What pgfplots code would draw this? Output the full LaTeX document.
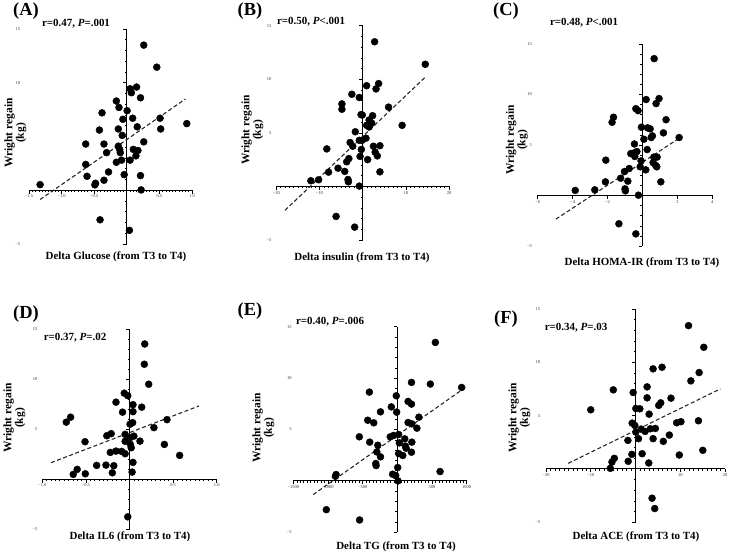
\documentclass[border=0pt]{standalone}
\usepackage{fontspec}
\setmainfont{Liberation Serif}
\usepackage{pgfplots}
\pgfplotsset{compat=1.18}
\pgfplotsset{
  panel/.style={
    scale only axis,
    axis lines=middle,
    axis line style={-, line width=1bp, black},
    enlargelimits=false,
    clip=false,
    ymin=-5, ymax=15,
    ytick={-5,0,5,10,15},
    yticklabels={−5,0,5,10,15},
    minor y tick num=4,
    tick align=outside,
    major tick length=3.5bp,
    minor tick length=2bp,
    every tick/.style={line width=0.6bp, black},
    minor tick style={line width=0.5bp, black},
    tick label style={font=\fontsize{4.5}{5}\selectfont, inner sep=1bp, black!80},
  },
  dots/.style={only marks, mark=*, mark size=3.5bp, mark options={fill=black, draw=black}},
  fit/.style={no marks, black!85, line width=1.1bp, dash pattern=on 4bp off 2.5bp},
}
\begin{document}
\begin{tikzpicture}[x=1bp,y=1bp]
\path[use as bounding box] (0bp,0bp) rectangle (730bp,555bp);
\tikzset{
  plab/.style={font=\fontsize{18.5}{18.5}\selectfont\bfseries},
  stat/.style={font=\fontsize{11}{12}\selectfont\bfseries},
  xlab/.style={font=\fontsize{11}{12}\selectfont\bfseries},
  ylab/.style={font=\fontsize{11.5}{11.5}\selectfont\bfseries, rotate=90, align=center},
}
% ---------------- (A) ----------------
\begin{axis}[panel, at={(29bp,311bp)}, anchor=south west, width=163bp, height=215bp,
  xmin=-1.5, xmax=1.0, xtick={-1.5,-1,-0.5,0,0.5,1}, xticklabels={−1.5,−1.0,−0.5,,0.5,1.0},
  minor x tick num=9, yticklabel style={xshift=-102bp}]
\addplot[dots] coordinates {
(0.26,13.5) (0.46,11.45) (0.05,9.44) (0.15,9.6) (0.07,9.07) (0.21,8.6) (-0.16,8.3) (-0.12,7.7)
(-0.38,7.2) (0.005,7.4) (-0.06,6.6) (0.09,6.7) (0.51,6.7) (0.92,6.2) (0.16,5.9) (-0.13,5.7)
(-0.42,5.6) (0.52,5.7) (-0.07,5.1) (-0.63,4.3) (-0.35,4.3) (0.26,4.5) (-0.13,4.1) (-0.11,3.8)
(0.1,3.8) (0.17,3.7) (-0.31,3.5) (-0.1,3.5) (0.14,3.2) (-0.63,2.4) (-0.16,2.6) (-0.08,2.8)
(0.05,2.8) (-0.28,1.7) (-0.61,1.3) (-0.04,1.45) (0.21,1.36) (-0.35,0.93) (-0.48,0.65) (-0.49,0.5)
(-1.33,0.52) (0.22,0.03) (-0.41,-2.75) (0.04,-3.73)
};
\addplot[fit] coordinates {(-1.33,-0.86) (0.90,8.49)};
\end{axis}
\node[plab] at (26bp,544bp) {(A)};
\node[stat] at (76bp,531bp) {r=0.47, \textit{P}=.001};
\node[xlab] at (116bp,298bp) {Delta Glucose (from T3 to T4)};
\node[ylab] at (15.5bp,422bp) {Wright regain\\(kg)};
% ---------------- (B) ----------------
\begin{axis}[panel, at={(276.3bp,315bp)}, anchor=south west, width=172.7bp, height=214.3bp,
  xmin=-20, xmax=20, xtick={-20,-10,0,10,20}, xticklabels={−20,−10,,10,20},
  minor x tick num=9, yticklabel style={xshift=-86.5bp}]
\addplot[dots] coordinates {
(2.77,13.5) (14.5,11.4) (3.7,9.6) (0.92,9.4) (3.1,9.1) (-2.5,8.6) (-0.77,8.3) (-4.8,7.7)
(-4.8,7.2) (6.0,7.4) (-0.38,6.7) (-0.08,6.66) (2.3,6.6) (1.5,6.2) (2.1,5.9) (0.92,5.7)
(1.5,5.55) (9.15,5.7) (-1.7,5.1) (0.77,4.5) (-0.77,4.3) (-0.15,4.3) (-2.9,4.1) (-2.3,3.75)
(2.5,3.75) (4.0,3.8) (-8.3,3.5) (-0.3,3.45) (2.9,3.2) (3.4,2.85) (-0.6,2.8) (-3.2,2.6)
(1.15,2.5) (-3.7,2.3) (-5.7,1.7) (-4.15,1.4) (-7.9,1.33) (4.0,1.36) (-3.4,0.65) (-3.3,0.43)
(-12,0.53) (-10.2,0.62) (-0.77,0.03) (-6.15,-2.8) (-1.85,-3.8)
};
\addplot[fit] coordinates {(-18,-2.23) (14.5,10.2)};
\end{axis}
\node[plab] at (250bp,544bp) {(B)};
\node[stat] at (311bp,533bp) {r=0.50, \textit{P}<.001};
\node[xlab] at (362bp,297bp) {Delta insulin (from T3 to T4)};
\node[ylab] at (252.5bp,425bp) {Wright regain\\(kg)};
% ---------------- (C) ----------------
\begin{axis}[panel, at={(537.7bp,309bp)}, anchor=south west, width=174.6bp, height=202bp,
  xmin=-6, xmax=4, xtick={-6,-4,-2,0,2,4}, xticklabels={−6,−4,−2,,2,4},
  minor x tick num=0, yticklabel style={xshift=-106bp}]
\addplot[dots] coordinates {
(0.67,13.55) (0.95,9.6) (0.21,9.5) (0.78,9.1) (-0.38,8.6) (-0.25,8.4) (-1.66,7.75) (-1.74,7.25)
(1.35,7.5) (-0.06,6.76) (0.29,6.7) (0.44,6.6) (1.2,6.2) (0.57,5.9) (0.5,5.74) (2.1,5.74)
(0.08,5.57) (-0.46,5.1) (0.27,4.55) (-0.67,4.15) (-0.5,4.2) (-0.32,4.35) (-0.44,3.86) (0.65,3.8)
(0.84,3.8) (-2.1,3.5) (-0.08,3.43) (0.61,3.26) (0.76,2.97) (-0.13,2.84) (0.82,2.84) (-0.76,2.67)
(-1.03,2.37) (0.19,2.54) (-1.25,1.71) (-0.84,1.42) (-2.12,1.35) (1.05,1.35) (-1.0,0.66) (-0.98,0.46)
(-2.73,0.56) (-3.85,0.5) (-0.23,0.03) (-1.35,-2.8) (-0.38,-3.8)
};
\addplot[fit] coordinates {(-4.96,-2.34) (2.1,5.67)};
\end{axis}
\node[plab] at (506bp,544bp) {(C)};
\node[stat] at (584bp,532bp) {r=0.48, \textit{P}<.001};
\node[xlab] at (642bp,292bp) {Delta HOMA-IR (from T3 to T4)};
\node[ylab] at (517bp,415bp) {Wright regain\\(kg)};
% ---------------- (D) ----------------
\begin{axis}[panel, at={(42.3bp,26bp)}, anchor=south west, width=174.4bp, height=199.7bp,
  xmin=-1, xmax=1, xtick={-1,-0.5,0,0.5,1}, xticklabels={−1.0,−0.5,,0.5,1.0},
  minor x tick num=9, yticklabel style={xshift=-87.5bp}]
\addplot[dots] coordinates {
(0.175,13.53) (0.17,11.5) (0.22,9.5) (-0.06,8.6) (-0.02,8.35) (-0.155,7.7) (0.04,7.45) (0.14,7.2)
(-0.08,6.7) (0.04,6.75) (-0.675,6.2) (-0.725,5.7) (0.036,5.65) (0.006,5.5) (0.43,5.95) (0.28,5.15)
(-0.21,4.55) (-0.26,4.34) (-0.05,4.48) (0.05,4.3) (0.006,4.14) (-0.51,3.74) (-0.05,3.78) (0.12,3.8)
(0.4,3.47) (0.01,3.47) (0.02,3.14) (-0.155,2.8) (-0.22,2.67) (-0.09,2.77) (-0.05,2.54) (0.575,2.37)
(0.04,1.67) (-0.377,1.37) (-0.27,1.4) (-0.18,1.34) (-0.6,0.97) (-0.645,0.47) (-0.507,0.53) (-0.197,0.63)
(0.03,0.7) (-0.02,-3.78)
};
\addplot[fit] coordinates {(-0.9,1.64) (0.797,7.32)};
\end{axis}
\node[plab] at (26bp,241bp) {(D)};
\node[stat] at (75bp,217.5bp) {r=0.37, \textit{P}=.02};
\node[xlab] at (130bp,18bp) {Delta IL6 (from T3 to T4)};
\node[ylab] at (14.5bp,137bp) {Wright regain\\(kg)};
% ---------------- (E) ----------------
\begin{axis}[panel, at={(293.3bp,22.7bp)}, anchor=south west, width=173.4bp, height=205.6bp,
  xmin=-1500, xmax=1000, xtick={-1500,-1000,-500,0,500,1000}, xticklabels={−1500,−1000,−500,,500,1000},
  minor x tick num=9, yticklabel style={xshift=-101bp}, scaled x ticks=false]
\addplot[dots] coordinates {
(548,13.47) (204,9.58) (476,9.42) (927,9.09) (-403,8.64) (-15,8.28) (155,7.73) (204,7.47)
(-87,7.2) (-243,6.72) (-10,6.69) (311,6.2) (-427,5.9) (-340,5.65) (155,5.68) (209,5.55)
(282,5.13) (-548,4.29) (-102,4.29) (-53,4.42) (19,4.51) (107,4.09) (-398,3.77) (29,3.70)
(209,3.77) (-282,3.47) (117,3.38) (126,3.18) (-296,2.82) (204,2.79) (19,2.66) (78,2.47)
(-243,2.34) (-311,1.69) (-306,1.49) (5,1.3) (616,0.91) (-68,0.65) (-24,0.52) (-883,0.62)
(-893,0.45) (10,0.0) (-1024,-2.8) (-544,-3.8)
};
\addplot[fit] coordinates {(-1213,-1.33) (980,9.09)};
\end{axis}
\node[plab] at (250bp,244bp) {(E)};
\node[stat] at (330bp,233bp) {r=0.40, \textit{P}=.006};
\node[xlab] at (396bp,8bp) {Delta TG (from T3 to T4)};
\node[ylab] at (263.5bp,127bp) {Wright regain\\(kg)};
% ---------------- (F) ----------------
\begin{axis}[panel, at={(546bp,32.7bp)}, anchor=south west, width=179bp, height=213.3bp,
  xmin=-20, xmax=20, xtick={-20,-10,0,10,20}, xticklabels={−20,−10,,10,20},
  minor x tick num=9, yticklabel style={xshift=-90.7bp}]
\addplot[dots] coordinates {
(11.85,13.44) (15.26,11.41) (3.93,9.39) (5.93,9.54) (14.22,9.04) (12.37,8.26) (2.59,7.7) (-4.96,7.42)
(-0.52,7.17) (2.59,6.67) (7.93,6.64) (5.63,6.2) (5.19,5.96) (-10,5.55) (0.07,5.67) (0.96,5.64)
(3.04,5.14) (-0.74,4.3) (-0.15,4.08) (14.07,4.52) (10.15,4.43) (9.19,4.33) (1.26,3.74) (3.33,3.77)
(4.44,3.8) (0.07,3.46) (2.15,3.52) (7.56,3.18) (-1.7,2.68) (0.67,2.84) (3.93,2.84) (6.22,2.59)
(15.04,1.75) (-0.81,1.37) (1.48,1.43) (9.78,1.31) (-4.74,1.0) (-5.26,0.65) (-1.63,0.72) (2.96,0.56)
(-5.63,0.06) (3.7,-2.74) (4.3,-3.71)
};
\addplot[fit] coordinates {(-15.04,0.53) (18.96,7.51)};
\end{axis}
\node[plab] at (506bp,236bp) {(F)};
\node[stat] at (576bp,227bp) {r=0.34, \textit{P}=.03};
\node[xlab] at (636bp,18bp) {Delta ACE (from T3 to T4)};
\node[ylab] at (519.5bp,137bp) {Wright regain\\(kg)};
\end{tikzpicture}
\end{document}
